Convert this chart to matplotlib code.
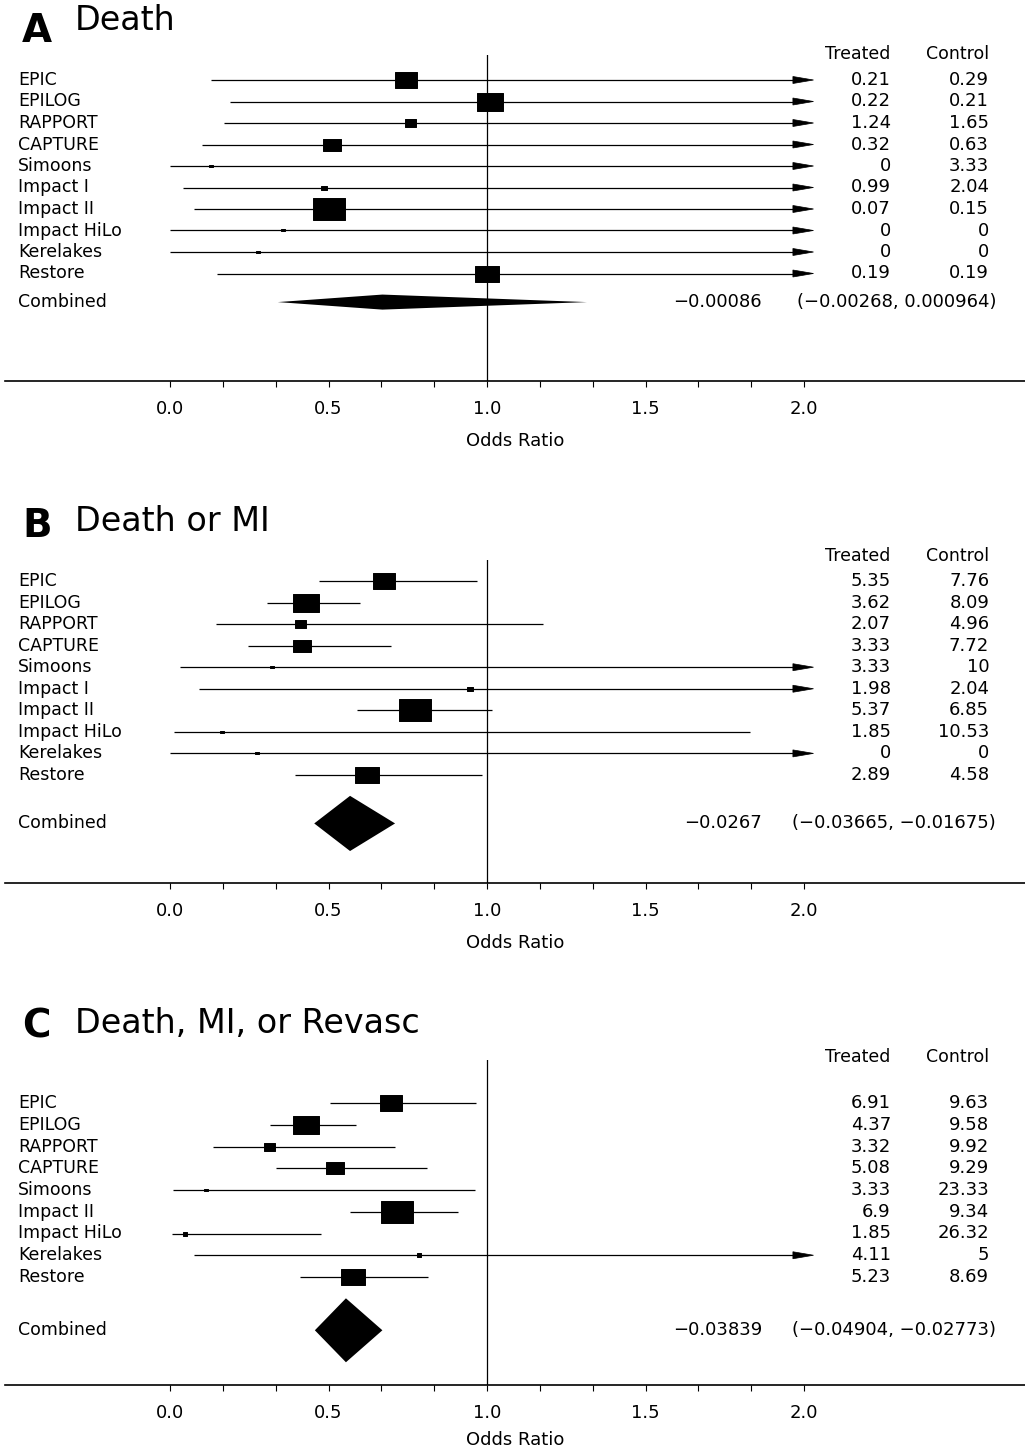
import numpy as np
import matplotlib.pyplot as plt
from matplotlib.path import Path

plt.rcParams['font.family'] = ['DejaVu Sans']

# ---- data ----
# A: Death
studies_a = ["EPIC", "EPILOG", "RAPPORT", "CAPTURE", "Simoons", "Impact I",
             "Impact II", "Impact HiLo", "Kerelakes", "Restore"]
or_a = [0.745, 1.01, 0.757, 0.51, 0.13, 0.485, 0.50, 0.357, 0.278, 1.0]
lo_a = [0.13, 0.19, 0.17, 0.10, 0.0, 0.04, 0.075, 0.0, 0.0, 0.148]
hi_a = [np.inf] * 10
weight_a = [23, 27, 11, 18, 4, 6, 32, 4, 4, 24]
treated_a = [0.21, 0.22, 1.24, 0.32, 0, 0.99, 0.07, 0, 0, 0.19]
control_a = [0.29, 0.21, 1.65, 0.63, 3.33, 2.04, 0.15, 0, 0, 0.19]
combined_a = [0.34, 0.67, 1.315]
diff_a = "\u22120.00086"
ci_a = "(\u22120.00268, 0.000964)"

# B: Death or MI
studies_b = studies_a
or_b = [0.675, 0.428, 0.41, 0.415, 0.322, 0.946, 0.773, 0.163, 0.274, 0.622]
lo_b = [0.47, 0.305, 0.145, 0.247, 0.03, 0.09, 0.59, 0.013, 0.0, 0.394]
hi_b = [0.968, 0.60, 1.177, 0.697, np.inf, np.inf, 1.015, 1.83, np.inf, 0.984]
weight_b = [23, 27, 11, 18, 4, 6, 32, 4, 4, 24]
treated_b = [5.35, 3.62, 2.07, 3.33, 3.33, 1.98, 5.37, 1.85, 0, 2.89]
control_b = [7.76, 8.09, 4.96, 7.72, 10, 2.04, 6.85, 10.53, 0, 4.58]
combined_b = [0.455, 0.568, 0.71]
diff_b = "\u22120.0267"
ci_b = "(\u22120.03665, \u22120.01675)"

# C: Death, MI, or Revasc
studies_c = ["EPIC", "EPILOG", "RAPPORT", "CAPTURE", "Simoons", "Impact II",
             "Impact HiLo", "Kerelakes", "Restore"]
or_c = [0.697, 0.429, 0.312, 0.52, 0.114, 0.717, 0.048, 0.787, 0.578]
lo_c = [0.505, 0.315, 0.135, 0.334, 0.01, 0.568, 0.005, 0.077, 0.41]
hi_c = [0.965, 0.587, 0.71, 0.811, 0.962, 0.91, 0.475, np.inf, 0.815]
weight_c = [23, 27, 11, 18, 4, 32, 5, 5, 24]
treated_c = [6.91, 4.37, 3.32, 5.08, 3.33, 6.9, 1.85, 4.11, 5.23]
control_c = [9.63, 9.58, 9.92, 9.29, 23.33, 9.34, 26.32, 5, 8.69]
combined_c = [0.457, 0.555, 0.67]
diff_c = "\u22120.03839"
ci_c = "(\u22120.04904, \u22120.02773)"

# ---- layout ----
W, H = 1025, 1451
fig = plt.figure(figsize=(W / 100, H / 100), dpi=100)

X0, X1 = (5 - 170) / 317, (1025 - 170) / 317   # odds ratio at the figure edges
ARROW_END = 2.03
HEAD_LEN = 0.065

# rectangular box marker (wider than tall)
box = Path([(-1.5, -1), (1.5, -1), (1.5, 1), (-1.5, 1), (-1.5, -1)],
           [Path.MOVETO, Path.LINETO, Path.LINETO, Path.LINETO, Path.CLOSEPOLY])


def fy(px):
    return 1 - px / H


def panel(letter, title, names, est, lo, hi, wt, treated, control, comb,
          diff, ci, top, row0, step, axis_px, comb_row, comb_h,
          letter_base, title_base, head_px, xlabel_pad=10):
    ax = fig.add_axes([5 / W, fy(axis_px), 1020 / W, (axis_px - top) / H])
    ax.set_xlim(X0, X1)
    ax.set_ylim((axis_px - row0) / step, (top - row0) / step)

    ax.axvline(1.0, color='k', lw=0.9)

    for i in range(len(names)):
        if np.isfinite(hi[i]):
            ax.hlines(i, lo[i], hi[i], color='k', lw=0.9)
        else:
            ax.hlines(i, lo[i], ARROW_END - HEAD_LEN, color='k', lw=0.9)
            ax.arrow(ARROW_END - HEAD_LEN, i, HEAD_LEN, 0, width=0,
                     head_width=7 / step, head_length=HEAD_LEN,
                     length_includes_head=True, fc='k', ec='k', lw=0.5)
        ax.plot(est[i], i, marker=box, ms=wt[i] * 0.72, color='k', mec='k', mew=0.7)
        ax.text(-0.48, i, names[i], ha='left', va='center', fontsize=12.5)
        ax.text(2.274, i, f"{treated[i]:g}", ha='right', va='center', fontsize=13)
        ax.text(2.584, i, f"{control[i]:g}", ha='right', va='center', fontsize=13)

    # combined diamond
    ax.fill([comb[0], comb[1], comb[2], comb[1]],
            [comb_row, comb_row - comb_h, comb_row, comb_row + comb_h],
            color='k', lw=0)
    ax.text(-0.48, comb_row, "Combined", ha='left', va='center', fontsize=12.5)
    ax.text(1.868, comb_row, diff, ha='right', va='center', fontsize=13)
    ax.text(2.606, comb_row, ci, ha='right', va='center', fontsize=13)

    head_row = (head_px - row0) / step
    ax.text(2.274, head_row, "Treated", ha='right', va='center', fontsize=12.5, clip_on=False)
    ax.text(2.584, head_row, "Control", ha='right', va='center', fontsize=12.5, clip_on=False)

    fig.text(22 / W, fy(letter_base), letter, fontsize=28, fontweight='bold', va='baseline')
    fig.text(75 / W, fy(title_base), title, fontsize=24, va='baseline')

    for s in ['top', 'left', 'right']:
        ax.spines[s].set_visible(False)
    ax.spines['bottom'].set_linewidth(1.2)
    ax.set_yticks([])
    ax.set_xticks([0, 0.5, 1.0, 1.5, 2.0])
    ax.set_xticklabels(["0.0", "0.5", "1.0", "1.5", "2.0"], fontsize=13)
    ax.set_xticks(np.arange(0, 2.01, 1 / 6), minor=True)
    ax.tick_params(axis='x', which='both', direction='out', length=4, width=0.8, pad=10)
    ax.set_xlabel("Odds Ratio", fontsize=13, labelpad=xlabel_pad)
    return ax


panel("A", "Death", studies_a, or_a, lo_a, hi_a, weight_a, treated_a, control_a,
      combined_a, diff_a, ci_a, top=55, row0=80, step=21.5, axis_px=381,
      comb_row=10.33, comb_h=0.35, letter_base=42, title_base=30, head_px=54)

panel("B", "Death or MI", studies_b, or_b, lo_b, hi_b, weight_b, treated_b, control_b,
      combined_b, diff_b, ci_b, top=560, row0=581, step=21.55, axis_px=883,
      comb_row=11.25, comb_h=1.28, letter_base=537, title_base=531, head_px=556)

panel("C", "Death, MI, or Revasc", studies_c, or_c, lo_c, hi_c, weight_c, treated_c,
      control_c, combined_c, diff_c, ci_c, top=1060, row0=1103, step=21.75, axis_px=1385,
      comb_row=10.45, comb_h=1.47, letter_base=1037, title_base=1033, head_px=1057,
      xlabel_pad=6)

plt.savefig("out.png", dpi=100)
